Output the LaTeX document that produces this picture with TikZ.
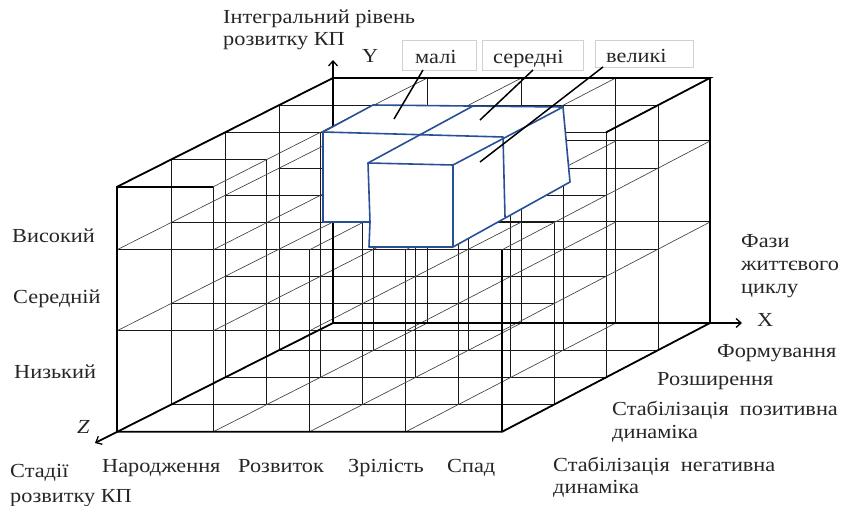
\documentclass[tikz,border=0pt]{standalone}
\usepackage{fontspec}
\setmainfont{Liberation Serif}[FakeStretch=1.12]
\usetikzlibrary{arrows.meta}
\definecolor{boxblue}{RGB}{40,80,150}
\begin{document}
\begin{tikzpicture}[x=1bp,y=-1bp,
  font=\fontsize{20}{24}\selectfont,
  thk/.style={line width=1.8bp,black},
  med/.style={line width=1bp,black!90},
  thn/.style={line width=0.65bp,black!75},
  blu/.style={line width=1.6bp,draw=boxblue,line join=round},
  lead/.style={line width=1.5bp,black},
  tbox/.style={line width=0.5bp,draw=black!18},
  lbl/.style={anchor=base west,inner sep=0pt,text=black!85},
  arr/.style={-{Straight Barb[length=5bp,width=9bp,line width=1.3bp]}}]
\useasboundingbox (0,0) rectangle (842,506);
% lattice points p<x><level><z>
\foreach \x in {0,...,4}{\foreach \z in {0,...,4}{\foreach \l/\h in {0/0,1/101,2/182,3/245}{
  \coordinate (p\x\l\z) at ({333+\x*(94.25+0.5*\z)-54*\z},{323-\h+27.2*\z});}}}
% verticals
\foreach \x in {0,...,4}{\foreach \z in {0,...,4}{
  \pgfmathtruncatemacro\t{(\x>1 && \z>2) ? 2 : 3}
  \draw[med] (p\x0\z) -- (p\x\t\z);}}
% x-lines
\foreach \z in {0,...,4}{\foreach \l in {0,1,2}{\draw[med] (p0\l\z) -- (p4\l\z);}}
\foreach \z in {0,1,2}{\draw[med] (p03\z) -- (p43\z);}
\foreach \z in {3,4}{\draw[med] (p03\z) -- (p13\z);}
% z-lines
\foreach \x in {0,...,4}{\foreach \l in {0,1,2}{\draw[thn] (p\x\l0) -- (p\x\l4);}}
\foreach \x in {0,1}{\draw[thn] (p\x30) -- (p\x34);}
\foreach \x in {2,3,4}{\draw[thn] (p\x30) -- (p\x32);}
% outline
\draw[thk] (p030) -- (p430) -- (p432);
\draw[thk] (p030) -- (p034) -- (p004) -- (p404) -- (p400) -- (p430);
\draw[thk] (p034) -- (p134);
\draw[thk] (p404) -- (p424);
% axes
\coordinate (ytip) at (333,60);
\coordinate (xtip) at (742,323);
\coordinate (ztip) at (95,443);
\draw[thk,arr] (p000) -- (ytip);
\draw[thk,arr] (p000) -- (xtip);
\draw[thk,arr] (p000) -- (ztip);
% blue boxes
\coordinate (b1) at (323,132); \coordinate (b2) at (373,105);
\coordinate (b3) at (563,107); \coordinate (b4) at (570,182);
\coordinate (b5) at (453,247); \coordinate (b6) at (369,247);
\coordinate (b7) at (370,222); \coordinate (b8) at (323,222);
\coordinate (b9) at (503,137); \coordinate (b10) at (505,217);
\coordinate (b11) at (368,163); \coordinate (b12) at (453,165);
\coordinate (b13) at (473,106);
\filldraw[blu,fill=white] (b1) -- (b2) -- (b3) -- (b4) -- (b5) -- (b6) -- (b7) -- (b8) -- cycle;
\draw[blu] (b1) -- (b9) -- (b10);
\draw[blu] (b7) -- (b11) -- (b12) -- (b5);
\draw[blu] (b11) -- (b13);
\draw[blu] (b12) -- (b3);
% label boxes
\draw[tbox] (402,40) rectangle (476,70);
\draw[tbox] (482,40) rectangle (583,70);
\draw[tbox] (595,40) rectangle (693,67);
\node[lbl] (mali) at (415,64) {малі};
\node[lbl] (seredni) at (493,64) {середні};
\node[lbl] (velyki) at (606,63) {великі};
% leaders
\coordinate (l1a) at (423,70); \coordinate (l1b) at (394,119);
\coordinate (l2a) at (533,70); \coordinate (l2b) at (480,120);
\coordinate (l3a) at (603,67); \coordinate (l3b) at (480,162);
\draw[lead] (l1a) -- (l1b);
\draw[lead] (l2a) -- (l2b);
\draw[lead] (l3a) -- (l3b);
% texts
\node[lbl] (t1) at (223,24) {Інтегральний рівень};
\node[lbl] (t2) at (223,46) {розвитку КП};
\node[lbl] (ty) at (362,63) {Y};
\node[lbl] (tx) at (757,327) {X};
\node[lbl] (tz) at (77,433) {\itshape Z};
\node[lbl] (vys) at (12,243) {Високий};
\node[lbl] (ser) at (13,304) {Середній};
\node[lbl] (nyz) at (14,378) {Низький};
\node[lbl] (st1) at (10,477) {Стадії};
\node[lbl] (st2) at (10,502) {розвитку КП};
\node[lbl] (nar) at (102,472) {Народження};
\node[lbl] (roz) at (238,472) {Розвиток};
\node[lbl] (zri) at (348,472) {Зрілість};
\node[lbl] (spa) at (447,472) {Спад};
\node[lbl] (sn1) at (553,471) {Стабілізація\ \ негативна};
\node[lbl] (sn2) at (553,493) {динаміка};
\node[lbl] (sp1) at (612,415) {Стабілізація\ \ позитивна};
\node[lbl] (sp2) at (612,438) {динаміка};
\node[lbl] (rsh) at (657,385) {Розширення};
\node[lbl] (frm) at (717,357) {Формування};
\node[lbl] (f1) at (741,248) {Фази};
\node[lbl] (f2) at (741,271) {життєвого};
\node[lbl] (f3) at (741,294) {циклу};
\end{tikzpicture}
\end{document}
